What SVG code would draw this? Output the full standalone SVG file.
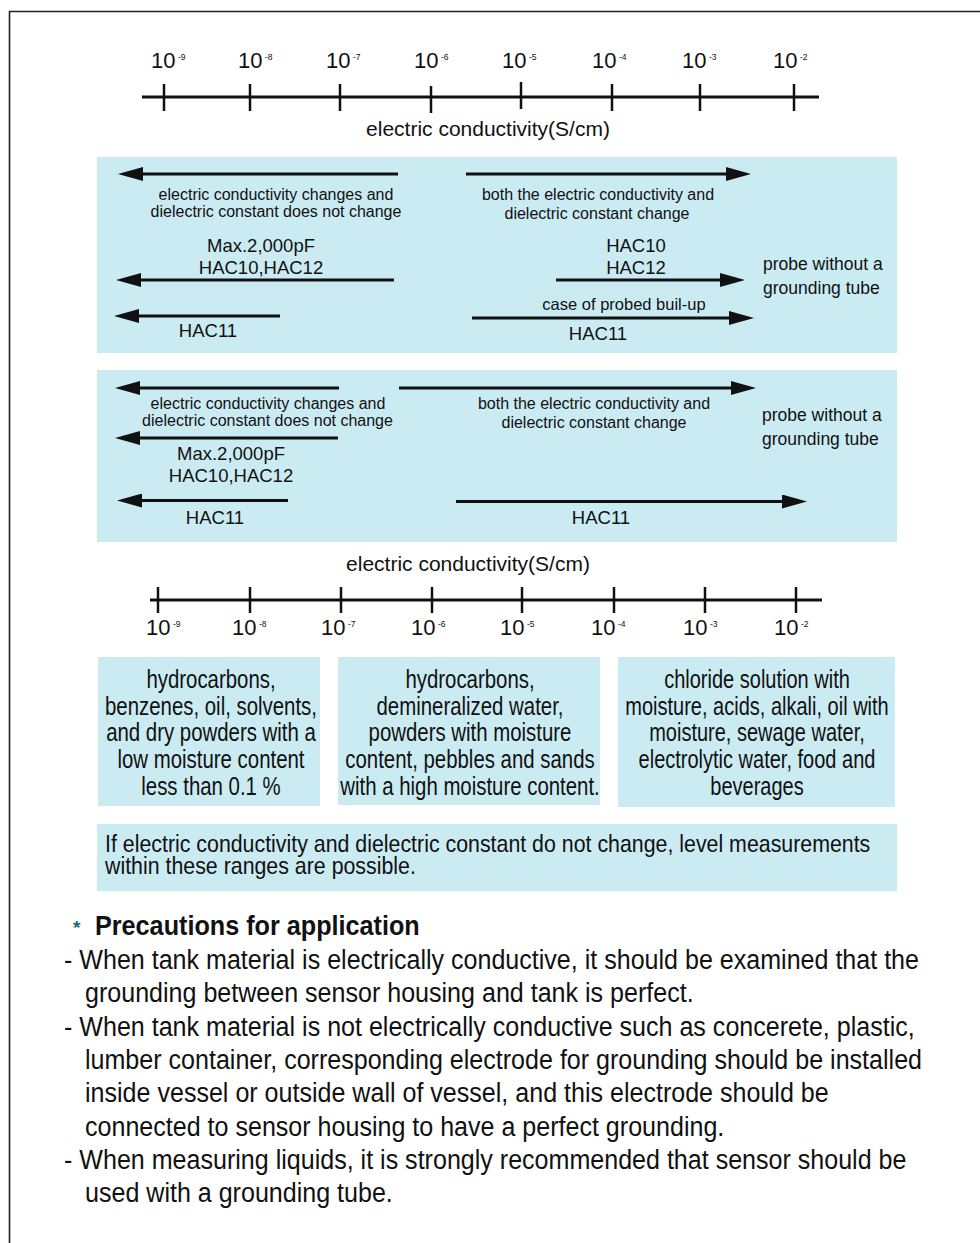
<svg xmlns="http://www.w3.org/2000/svg" width="980" height="1243" viewBox="0 0 980 1243">
<defs>
<style>
text{font-family:"Liberation Sans",Arial,sans-serif;fill:#111}
.ax{stroke:#111;stroke-width:3}
.tk{stroke:#111;stroke-width:2.5}
.num{font-size:22px}
.sup{font-size:8.5px}
.axl{font-size:21px;text-anchor:middle}
.panel{fill:#CBEBF3}
.sm{font-size:16px;text-anchor:middle}
.md{font-size:18.5px;text-anchor:middle}
.ca{font-size:16.5px;text-anchor:middle}
.pr{font-size:17.5px}
.bx{font-size:25.5px;text-anchor:middle}
.nt{font-size:24px}
.pc{font-size:28px}
.hd{font-size:28px;font-weight:bold}
.ar{stroke:#111;stroke-width:3;fill:none;marker-end:url(#ah)}
</style>
<marker id="ah" viewBox="0 0 25 14" refX="0" refY="7" markerWidth="25" markerHeight="14" markerUnits="userSpaceOnUse" orient="auto">
<path d="M0,0 L25,7 L0,14 z" fill="#111"/>
</marker>
</defs>
<rect width="980" height="1243" fill="#fff"/>
<g id="frame" stroke="#222" stroke-width="1.6" fill="none">
<line x1="9" y1="11.5" x2="980" y2="11.5"/>
<line x1="9.5" y1="11" x2="9.5" y2="1243"/>
</g>

<g id="axis-top">
<line class="ax" x1="142" y1="97" x2="819" y2="97"/>
<g class="tk">
<line x1="164" y1="84" x2="164" y2="111"/>
<line x1="250" y1="84" x2="250" y2="111"/>
<line x1="340" y1="84" x2="340" y2="111"/>
<line x1="431" y1="86" x2="431" y2="113"/>
<line x1="521" y1="82" x2="521" y2="109"/>
<line x1="612" y1="84" x2="612" y2="111"/>
<line x1="700" y1="84" x2="700" y2="111"/>
<line x1="794" y1="84" x2="794" y2="111"/>
</g>
<text class="num" x="151" y="68">10<tspan class="sup" dx="2.5" dy="-8">-9</tspan></text>
<text class="num" x="238" y="68">10<tspan class="sup" dx="2.5" dy="-8">-8</tspan></text>
<text class="num" x="326" y="68">10<tspan class="sup" dx="2.5" dy="-8">-7</tspan></text>
<text class="num" x="414" y="68">10<tspan class="sup" dx="2.5" dy="-8">-6</tspan></text>
<text class="num" x="502" y="68">10<tspan class="sup" dx="2.5" dy="-8">-5</tspan></text>
<text class="num" x="592" y="68">10<tspan class="sup" dx="2.5" dy="-8">-4</tspan></text>
<text class="num" x="682" y="68">10<tspan class="sup" dx="2.5" dy="-8">-3</tspan></text>
<text class="num" x="773" y="68">10<tspan class="sup" dx="2.5" dy="-8">-2</tspan></text>
<text class="axl" x="488" y="136">electric conductivity(S/cm)</text>
</g>

<g id="panel-1">
<rect class="panel" x="97" y="157" width="800" height="196"/>
<text class="sm" x="276" y="200">electric conductivity changes and</text>
<text class="sm" x="276" y="217">dielectric constant does not change</text>
<text class="md" x="261" y="251.5">Max.2,000pF</text>
<text class="md" x="261" y="273.5">HAC10,HAC12</text>
<text class="md" x="208" y="337">HAC11</text>
<text class="sm" x="598" y="199.5">both the electric conductivity and</text>
<text class="sm" x="597" y="218.5">dielectric constant change</text>
<text class="md" x="636" y="251.5">HAC10</text>
<text class="md" x="636" y="273.5">HAC12</text>
<text class="ca" x="624" y="309.5">case of probed buil-up</text>
<text class="md" x="598" y="339.5">HAC11</text>
<text class="pr" x="763" y="270">probe without a</text>
<text class="pr" x="763" y="294">grounding tube</text>
</g>

<g id="panel-2">
<rect class="panel" x="97" y="370" width="800" height="172"/>
<text class="sm" x="268" y="408.5">electric conductivity changes and</text>
<text class="sm" x="267.5" y="426">dielectric constant does not change</text>
<text class="md" x="231" y="460">Max.2,000pF</text>
<text class="md" x="231" y="482">HAC10,HAC12</text>
<text class="md" x="215" y="523.5">HAC11</text>
<text class="sm" x="594" y="409">both the electric conductivity and</text>
<text class="sm" x="594" y="427.5">dielectric constant change</text>
<text class="pr" x="762" y="421">probe without a</text>
<text class="pr" x="762" y="445">grounding tube</text>
<text class="md" x="601" y="523.5">HAC11</text>
</g>

<g id="connectors">
<line class="ar" x1="398" y1="174" x2="143" y2="174"/>
<line class="ar" x1="394" y1="280" x2="141" y2="280"/>
<line class="ar" x1="280" y1="316" x2="139" y2="316"/>
<line class="ar" x1="466" y1="174" x2="726" y2="174"/>
<line class="ar" x1="556" y1="280" x2="720" y2="280"/>
<line class="ar" x1="472" y1="318" x2="729" y2="318"/>
<line class="ar" x1="339" y1="388" x2="140" y2="388"/>
<line class="ar" x1="338" y1="438" x2="140" y2="438"/>
<line class="ar" x1="288" y1="500.5" x2="142" y2="500.5"/>
<line class="ar" x1="399" y1="388" x2="731" y2="388"/>
<line class="ar" x1="456" y1="501.5" x2="782" y2="501.5"/>
</g>

<g id="axis-bottom">
<text class="axl" x="468" y="571">electric conductivity(S/cm)</text>
<line class="ax" x1="150" y1="600" x2="822" y2="600"/>
<g class="tk">
<line x1="158" y1="587" x2="158" y2="613"/>
<line x1="250" y1="587" x2="250" y2="613"/>
<line x1="341" y1="587" x2="341" y2="613"/>
<line x1="432" y1="587" x2="432" y2="613"/>
<line x1="522" y1="587" x2="522" y2="613"/>
<line x1="614" y1="587" x2="614" y2="613"/>
<line x1="705" y1="587" x2="705" y2="613"/>
<line x1="796" y1="587" x2="796" y2="613"/>
</g>
<text class="num" x="146" y="635">10<tspan class="sup" dx="2.5" dy="-8">-9</tspan></text>
<text class="num" x="232" y="635">10<tspan class="sup" dx="2.5" dy="-8">-8</tspan></text>
<text class="num" x="321" y="635">10<tspan class="sup" dx="2.5" dy="-8">-7</tspan></text>
<text class="num" x="411" y="635">10<tspan class="sup" dx="2.5" dy="-8">-6</tspan></text>
<text class="num" x="500" y="635">10<tspan class="sup" dx="2.5" dy="-8">-5</tspan></text>
<text class="num" x="591" y="635">10<tspan class="sup" dx="2.5" dy="-8">-4</tspan></text>
<text class="num" x="683" y="635">10<tspan class="sup" dx="2.5" dy="-8">-3</tspan></text>
<text class="num" x="774" y="635">10<tspan class="sup" dx="2.5" dy="-8">-2</tspan></text>
</g>

<g id="box-low">
<rect class="panel" x="98" y="657" width="222" height="149"/>
<text class="bx" transform="translate(211,688) scale(0.8,1)"><tspan x="0" y="0">hydrocarbons,</tspan><tspan x="0" y="26.7">benzenes, oil, solvents,</tspan><tspan x="0" y="53.4">and dry powders with a</tspan><tspan x="0" y="80.1">low moisture content</tspan><tspan x="0" y="106.8">less than 0.1 %</tspan></text>
</g>
<g id="box-mid">
<rect class="panel" x="338" y="657" width="262" height="148"/>
<text class="bx" transform="translate(470,688) scale(0.8,1)"><tspan x="0" y="0">hydrocarbons,</tspan><tspan x="0" y="26.7">demineralized water,</tspan><tspan x="0" y="53.4">powders with moisture</tspan><tspan x="0" y="80.1">content, pebbles and sands</tspan><tspan x="0" y="106.8">with a high moisture content.</tspan></text>
</g>
<g id="box-high">
<rect class="panel" x="618" y="657" width="277" height="150"/>
<text class="bx" transform="translate(757,688) scale(0.785,1)"><tspan x="0" y="0">chloride solution with</tspan><tspan x="0" y="26.7">moisture, acids, alkali, oil with</tspan><tspan x="0" y="53.4">moisture, sewage water,</tspan><tspan x="0" y="80.1">electrolytic water, food and</tspan><tspan x="0" y="106.8">beverages</tspan></text>
</g>
<g id="note">
<rect class="panel" x="97" y="824" width="800" height="67"/>
<text class="nt" transform="translate(105,852) scale(0.89,1)"><tspan x="0" y="0">If electric conductivity and dielectric constant do not change, level measurements</tspan><tspan x="0" y="22">within these ranges are possible.</tspan></text>
</g>

<g id="precautions">
<text x="73" y="934" style="font-size:19px;font-weight:bold;fill:#1d6b78">*</text>
<text class="hd" transform="translate(95,935) scale(0.9,1)">Precautions for application</text>
<text class="pc" transform="translate(64,969) scale(0.895,1)">- When tank material is electrically conductive, it should be examined that the</text>
<text class="pc" transform="translate(85,1002) scale(0.895,1)">grounding between sensor housing and tank is perfect.</text>
<text class="pc" transform="translate(64,1036) scale(0.895,1)">- When tank material is not electrically conductive such as concerete, plastic,</text>
<text class="pc" transform="translate(85,1069) scale(0.895,1)">lumber container, corresponding electrode for grounding should be installed</text>
<text class="pc" transform="translate(85,1102) scale(0.895,1)">inside vessel or outside wall of vessel, and this electrode should be</text>
<text class="pc" transform="translate(85,1136) scale(0.895,1)">connected to sensor housing to have a perfect grounding.</text>
<text class="pc" transform="translate(64,1169) scale(0.895,1)">- When measuring liquids, it is strongly recommended that sensor should be</text>
<text class="pc" transform="translate(85,1202) scale(0.895,1)">used with a grounding tube.</text>
</g>
</svg>
